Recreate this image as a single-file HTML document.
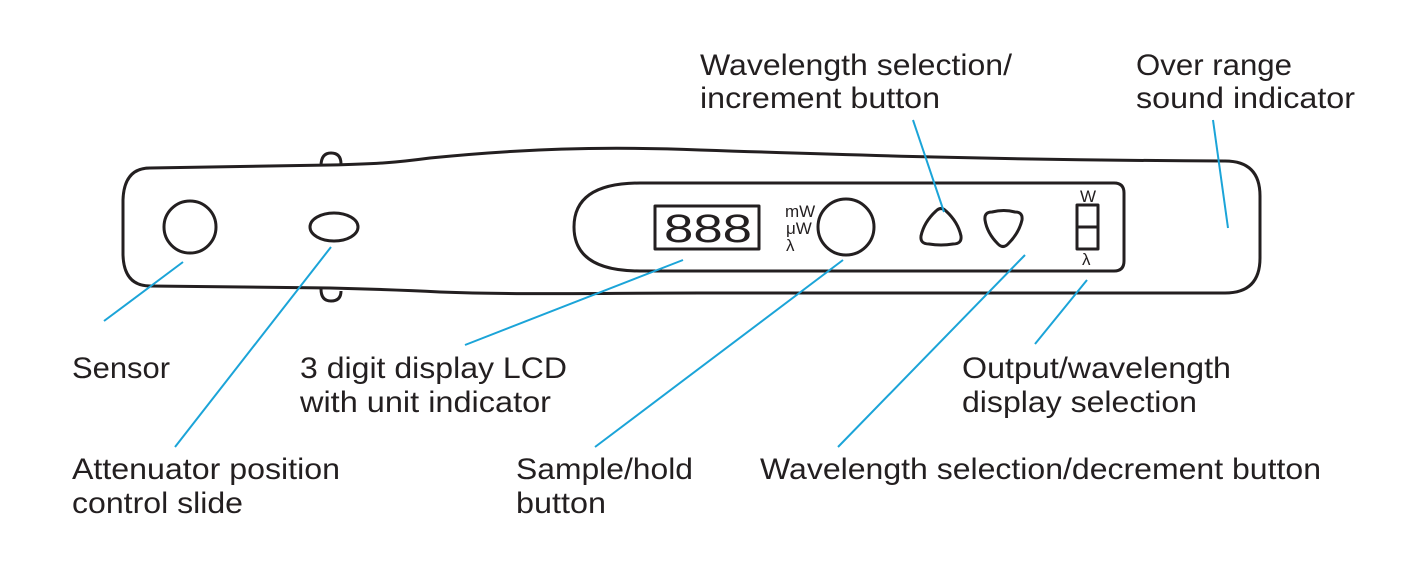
<!DOCTYPE html>
<html><head><meta charset="utf-8"><style>
html,body{margin:0;padding:0;background:#fff;}
svg{display:block;}
text{font-family:"Liberation Sans",Arial,sans-serif;font-size:30px;fill:#231f20;}
</style></head><body>
<svg width="1406" height="571" viewBox="0 0 1406 571" xmlns="http://www.w3.org/2000/svg">
<g fill="none" stroke="#231f20" stroke-width="3" stroke-linejoin="round">
  <path d="M321,166 Q321,153 331,153 Q341,153 341,164"/>
  <path d="M321,289 Q321,301 331,301 Q341,301 341,291"/>
  <path d="M150,168 L330,165 C380,164 400,162 430,158 C520,149 600,146 700,150 C850,155 1000,160 1225,161 Q1260,161 1260,196 L1260,258 Q1260,293 1225,293 L700,293 C600,293 520,295 440,292 C400,290 370,289 330,288 L150,286 Q124,286 123,255 L123,200 Q124,168 150,168 Z"/>
  <path d="M640,183 L1114,183 Q1124,183 1124,193 L1124,261 Q1124,271 1114,271 L640,271 Q574,271 574,227 Q574,183 640,183 Z"/>
  <circle cx="190" cy="227" r="26"/>
  <ellipse cx="334" cy="227" rx="24" ry="14"/>
  <rect x="655" y="206" width="104" height="43"/>
  <circle cx="846" cy="227" r="28"/>
  <path d="M936,211 Q941,206 946,211 Q958,222 961,236 Q962,244 953,244 Q941,246 929,244 Q920,244 921,236 Q924,222 936,211 Z"/>
  <path d="M1008,244 Q1003,249 998,244 Q987,233 985,220 Q984,212 992,212 Q1004,209 1015,212 Q1023,212 1022,220 Q1019,233 1008,244 Z"/>
  <rect x="1077" y="205" width="21" height="44"/>
  <line x1="1077" y1="227" x2="1098" y2="227"/>
</g>
<text x="664" y="242" style="font-size:40px" textLength="88" lengthAdjust="spacingAndGlyphs">888</text>
<text x="785" y="217" style="font-size:17px">mW</text>
<text x="786" y="234" style="font-size:17px">μW</text>
<text x="786" y="251" style="font-size:17px">λ</text>
<text x="1080" y="202" style="font-size:17px">W</text>
<text x="1082" y="265" style="font-size:17px">λ</text>
<g stroke="#1ba4d8" stroke-width="2">
  <line x1="183" y1="262" x2="104" y2="321"/>
  <line x1="331" y1="247" x2="175" y2="447"/>
  <line x1="683" y1="260" x2="465" y2="345"/>
  <line x1="843" y1="260" x2="595" y2="447"/>
  <line x1="1025" y1="255" x2="838" y2="447"/>
  <line x1="1087" y1="280" x2="1035" y2="344"/>
  <line x1="913" y1="120" x2="944" y2="212"/>
  <line x1="1213" y1="120" x2="1228" y2="228"/>
</g>
<text x="700" y="75" textLength="312" lengthAdjust="spacingAndGlyphs">Wavelength selection/</text>
<text x="700" y="108" textLength="240" lengthAdjust="spacingAndGlyphs">increment button</text>
<text x="1136" y="75" textLength="156" lengthAdjust="spacingAndGlyphs">Over range</text>
<text x="1136" y="108" textLength="219" lengthAdjust="spacingAndGlyphs">sound indicator</text>
<text x="72" y="378" textLength="98" lengthAdjust="spacingAndGlyphs">Sensor</text>
<text x="300" y="378" textLength="267" lengthAdjust="spacingAndGlyphs">3 digit display LCD</text>
<text x="300" y="412" textLength="251" lengthAdjust="spacingAndGlyphs">with unit indicator</text>
<text x="962" y="378" textLength="269" lengthAdjust="spacingAndGlyphs">Output/wavelength</text>
<text x="962" y="412" textLength="235" lengthAdjust="spacingAndGlyphs">display selection</text>
<text x="72" y="479" textLength="268" lengthAdjust="spacingAndGlyphs">Attenuator position</text>
<text x="72" y="513" textLength="171" lengthAdjust="spacingAndGlyphs">control slide</text>
<text x="516" y="479" textLength="177" lengthAdjust="spacingAndGlyphs">Sample/hold</text>
<text x="516" y="513" textLength="90" lengthAdjust="spacingAndGlyphs">button</text>
<text x="760" y="479" textLength="561" lengthAdjust="spacingAndGlyphs">Wavelength selection/decrement button</text>
</svg>
</body></html>
